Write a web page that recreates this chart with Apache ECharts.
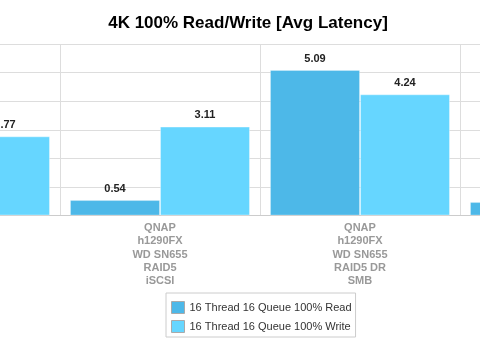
<!DOCTYPE html>
<html>
<head>
<meta charset="utf-8">
<script src="https://cdn.jsdelivr.net/npm/echarts@6/dist/echarts.min.js"></script>
<style>
html,body{margin:0;padding:0;background:#fff;overflow:hidden;width:480px;height:339px;}
#c{position:absolute;left:-140px;top:0;width:800px;height:339px;}
</style>
</head>
<body>
<div id="c"></div>
<script>
var titleText = '4K 100% Read/Write [Avg Latency]';
var categories = ['', 'QNAP\nh1290FX\nWD SN655\nRAID5\niSCSI', 'QNAP\nh1290FX\nWD SN655\nRAID5 DR\nSMB', ''];
var seriesNames = ['16 Thread 16 Queue 100% Read', '16 Thread 16 Queue 100% Write'];
var readValues = [null, 0.54, 5.09, 0.47];
var writeValues = [2.77, 3.11, 4.24, null];
var yTicks = {min: 0, max: 6, interval: 1};
var colors = ['#4DB8E8', '#66D6FF'];
var OFF = 140; // horizontal offset of the visible window inside the wide chart

var chart = echarts.init(document.getElementById('c'), null, {renderer: 'canvas'});
var labelStyle = {show: true, position: 'top', distance: 6, fontSize: 11, fontWeight: 'bold', color: '#222', fontFamily: 'Liberation Sans, Arial, sans-serif'};
chart.setOption({
  animation: false,
  color: colors,
  textStyle: {fontFamily: 'Liberation Sans, Arial, sans-serif'},
  title: {
    text: titleText,
    left: 243 + OFF, textAlign: 'center', top: 10,
    textStyle: {fontSize: 17, fontWeight: 'bold', color: '#000', fontFamily: 'Liberation Sans, Arial, sans-serif'}
  },
  legend: {
    orient: 'vertical',
    left: 166 + OFF, top: 293,
    borderColor: '#ccc', borderWidth: 1,
    padding: [8, 4, 4, 5],
    itemWidth: 13, itemHeight: 12, itemGap: 6,
    textStyle: {fontSize: 11, color: '#333'},
    data: seriesNames.map(function(n){ return {name: n, icon: 'rect', itemStyle: {borderColor: '#aaa', borderWidth: 1}}; })
  },
  grid: {left: 0, right: 0, top: 44, bottom: 123.5, containLabel: false},
  xAxis: {
    type: 'category',
    data: categories,
    axisLine: {lineStyle: {color: '#ccc'}},
    axisTick: {show: false},
    splitLine: {show: true, lineStyle: {color: '#ddd'}},
    axisLabel: {interval: 0, color: '#999', fontSize: 11, fontWeight: 'bold', lineHeight: 13.2, margin: 6}
  },
  yAxis: {
    type: 'value',
    min: yTicks.min, max: yTicks.max, interval: yTicks.interval,
    axisLabel: {show: false},
    axisLine: {show: false},
    axisTick: {show: false},
    splitLine: {lineStyle: {color: '#ddd'}}
  },
  series: [
    {name: seriesNames[0], type: 'bar', data: readValues, barGap: '0%', barCategoryGap: '10%', label: labelStyle,
     itemStyle: {color: colors[0], borderColor: 'rgba(255,255,255,0.25)', borderWidth: 1}},
    {name: seriesNames[1], type: 'bar', data: writeValues, barGap: '0%', barCategoryGap: '10%', label: labelStyle,
     itemStyle: {color: colors[1], borderColor: 'rgba(255,255,255,0.35)', borderWidth: 1}}
  ]
});
</script>
</body>
</html>
